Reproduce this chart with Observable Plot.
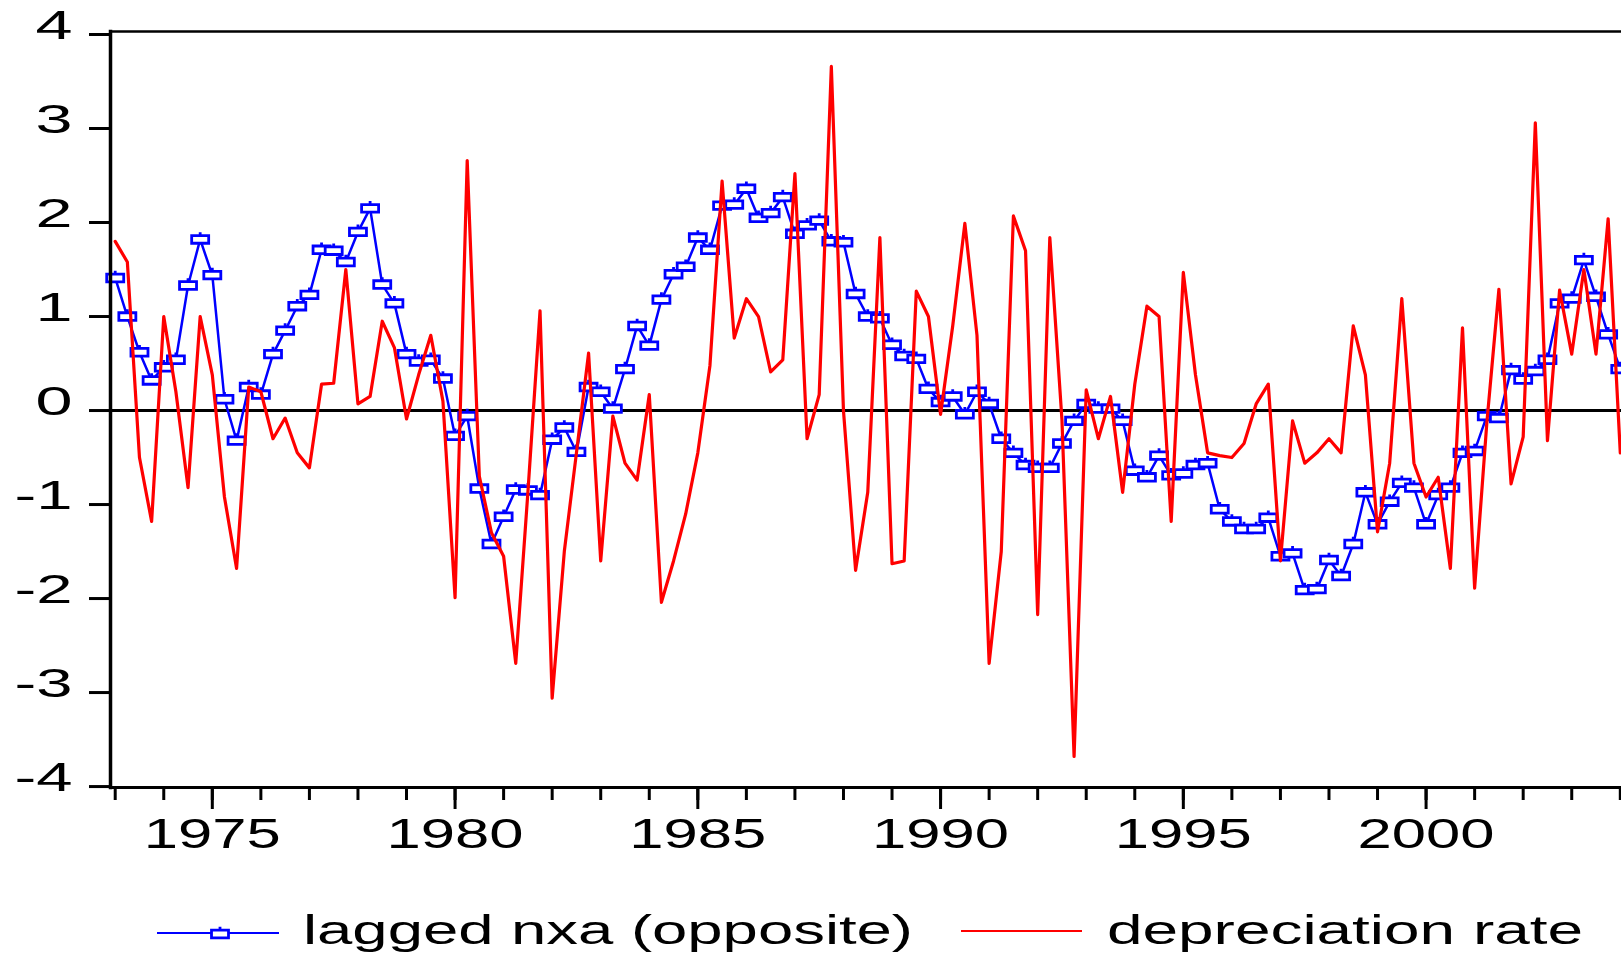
<!DOCTYPE html>
<html>
<head>
<meta charset="utf-8">
<script src="https://cdn.jsdelivr.net/npm/d3@7"></script>
<script src="https://cdn.jsdelivr.net/npm/@observablehq/plot@0.6"></script>
<style>
  html, body { margin: 0; padding: 0; background: #fff; }
  #chart svg { display: block; }
  #legend { display: block; }
</style>
</head>
<body>
<div id="chart"></div>
<svg id="legend" width="1621" height="84"></svg>
<script>
// ---- data: quarterly observations starting 1973Q1 ----
const startYear = 1973;
const quartersPerYear = 4;

// lagged nxa (opposite) — blue, with square markers
const laggedNxa = [
  1.41, 1.00, 0.62, 0.32, 0.46, 0.54, 1.33, 1.82, 1.44, 0.12,
  -0.32, 0.25, 0.17, 0.60, 0.85, 1.11, 1.23, 1.71, 1.70, 1.58,
  1.90, 2.15, 1.34, 1.14, 0.60, 0.52, 0.54, 0.34, -0.27, -0.06,
  -0.83, -1.42, -1.13, -0.84, -0.85, -0.90, -0.31, -0.18, -0.44, 0.25,
  0.20, 0.02, 0.44, 0.90, 0.69, 1.18, 1.45, 1.53, 1.84, 1.71,
  2.18, 2.19, 2.36, 2.05, 2.10, 2.27, 1.88, 1.97, 2.02, 1.80,
  1.79, 1.24, 1.00, 0.98, 0.70, 0.58, 0.55, 0.23, 0.09, 0.15,
  -0.04, 0.20, 0.07, -0.30, -0.45, -0.58, -0.61, -0.61, -0.35, -0.11,
  0.07, 0.02, 0.02, -0.11, -0.64, -0.71, -0.48, -0.69, -0.67, -0.58,
  -0.56, -1.05, -1.18, -1.26, -1.26, -1.14, -1.55, -1.52, -1.91, -1.90,
  -1.59, -1.76, -1.42, -0.87, -1.21, -0.97, -0.77, -0.82, -1.21, -0.90,
  -0.82, -0.45, -0.43, -0.06, -0.08, 0.43, 0.33, 0.42, 0.54, 1.14,
  1.19, 1.60, 1.21, 0.81, 0.44
];

// depreciation rate — red line
const depreciationRate = [
  1.80, 1.58, -0.50, -1.18, 1.00, 0.20, -0.82, 1.00, 0.38, -0.92,
  -1.68, 0.25, 0.20, -0.30, -0.08, -0.45, -0.61, 0.28, 0.29, 1.50,
  0.07, 0.15, 0.95, 0.67, -0.09, 0.38, 0.80, 0.10, -1.99, 2.66,
  -0.70, -1.30, -1.55, -2.69, -0.87, 1.06, -3.06, -1.50, -0.45, 0.61,
  -1.60, -0.06, -0.56, -0.74, 0.17, -2.04, -1.60, -1.10, -0.45, 0.48,
  2.44, 0.77, 1.19, 1.00, 0.41, 0.54, 2.52, -0.30, 0.17, 3.66,
  0.00, -1.70, -0.87, 1.84, -1.63, -1.60, 1.27, 1.00, -0.04, 0.90,
  1.99, 0.80, -2.69, -1.50, 2.07, 1.70, -2.17, 1.84, -0.10, -3.68,
  0.22, -0.30, 0.15, -0.87, 0.28, 1.11, 1.00, -1.18, 1.47, 0.38,
  -0.45, -0.48, -0.50, -0.35, 0.07, 0.28, -1.60, -0.11, -0.56, -0.45,
  -0.30, -0.45, 0.90, 0.38, -1.29, -0.56, 1.19, -0.56, -0.92, -0.71,
  -1.68, 0.88, -1.89, -0.14, 1.29, -0.78, -0.28, 3.06, -0.32, 1.28,
  0.60, 1.50, 0.60, 2.04, -0.45
];

const yTicks = [-4, -3, -2, -1, 0, 1, 2, 3, 4];
const xMajorTicks = [1975, 1980, 1985, 1990, 1995, 2000];
const xMinorTicks = d3.range(1973, 2005);
const seriesNames = ["lagged nxa (opposite)", "depreciation rate"];
const seriesColors = ["#0000ff", "#ff0000"];

// ---- build tables ----
const toRows = (arr) => arr.map((v, i) => ({t: startYear + i / quartersPerYear, v}));
const blueRows = toRows(laggedNxa);
const redRows = toRows(depreciationRate);

// open rectangle marker with a little stem on top
const markerSymbol = {
  draw(ctx) {
    const w = 8.5, h = 3.8;
    ctx.moveTo(-w, -h); ctx.lineTo(w, -h); ctx.lineTo(w, h); ctx.lineTo(-w, h); ctx.closePath();
    ctx.moveTo(0, -h); ctx.lineTo(0, -h - 3.5);
  }
};

const font = "'Liberation Sans', Arial, sans-serif";

const plot = Plot.plot({
  width: 1621,
  height: 870,
  marginLeft: 110,
  marginRight: 0,
  marginTop: 31,
  marginBottom: 83,
  x: {domain: [1972.903, 2004.025]},
  y: {domain: [-4.01, 4.032]},
  style: {fontFamily: font, background: "#fff", color: "#000", overflow: "visible"},
  marks: [
    // y tick marks
    Plot.axisY(yTicks, {tickSize: 21, strokeWidth: 3, tickFormat: () => "", label: null}),
    // y tick labels, sitting slightly above their ticks
    Plot.axisY(yTicks, {tickSize: 0, tickPadding: 38, fontSize: 40,
      tickFormat: d => String(d), dy: -8, label: null}),
    Plot.axisX(xMinorTicks, {tickSize: 13, strokeWidth: 3, tickFormat: () => "", label: null}),
    Plot.axisX(xMajorTicks, {tickSize: 22, tickPadding: 9, fontSize: 42, strokeWidth: 3,
      tickFormat: d => String(d), label: null}),
    Plot.ruleY([0], {stroke: "#000", strokeWidth: 3}),
    Plot.line(blueRows, {x: "t", y: "v", stroke: seriesColors[0], strokeWidth: 2.5}),
    Plot.dot(blueRows, {x: "t", y: "v", symbol: markerSymbol, stroke: seriesColors[0],
      fill: "#fff", strokeWidth: 2.8}),
    Plot.line(redRows, {x: "t", y: "v", stroke: seriesColors[1], strokeWidth: 3.2}),
    Plot.frame({anchor: "left", stroke: "#000", strokeWidth: 3.5}),
    Plot.frame({anchor: "top", stroke: "#000", strokeWidth: 2.5}),
    Plot.frame({anchor: "bottom", stroke: "#000", strokeWidth: 3})
  ]
});

// stretch tick labels horizontally like the original raster
plot.querySelectorAll('g[aria-label="y-axis tick label"] text').forEach(t => {
  const s = t.textContent;
  if (!s) return;
  t.setAttribute("textLength", s.length > 1 ? 58 : 37);
  t.setAttribute("lengthAdjust", "spacingAndGlyphs");
});
plot.querySelectorAll('g[aria-label="x-axis tick label"] text').forEach(t => {
  const s = t.textContent;
  if (!s) return;
  t.setAttribute("textLength", 137);
  t.setAttribute("lengthAdjust", "spacingAndGlyphs");
});
document.getElementById("chart").appendChild(plot);

// ---- legend ----
const lg = d3.select("#legend").style("font-family", font);
lg.append("line").attr("x1", 157).attr("x2", 279).attr("y1", 63).attr("y2", 63)
  .attr("stroke", seriesColors[0]).attr("stroke-width", 2.2);
lg.append("path").attr("d", d3.symbol(markerSymbol)()).attr("transform", "translate(220,64)")
  .attr("fill", "#fff").attr("stroke", seriesColors[0]).attr("stroke-width", 2.8);
lg.append("text").attr("x", 303).attr("y", 74).attr("font-size", 40).attr("fill", "#000")
  .attr("textLength", 610).attr("lengthAdjust", "spacingAndGlyphs").text(seriesNames[0]);
lg.append("line").attr("x1", 961).attr("x2", 1082).attr("y1", 61).attr("y2", 61)
  .attr("stroke", seriesColors[1]).attr("stroke-width", 2);
lg.append("text").attr("x", 1107).attr("y", 74).attr("font-size", 40).attr("fill", "#000")
  .attr("textLength", 476).attr("lengthAdjust", "spacingAndGlyphs").text(seriesNames[1]);
</script>
</body>
</html>
